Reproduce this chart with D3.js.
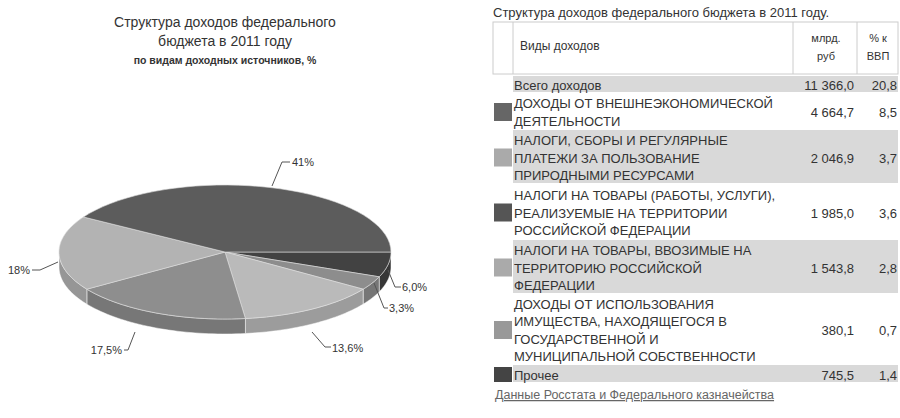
<!DOCTYPE html><html><head><meta charset="utf-8"><script src="https://d3js.org/d3.v7.min.js"></script>
<style>body{margin:0;background:#fff}text{font-family:"Liberation Sans",Arial,sans-serif}</style></head><body><svg id="c" width="900" height="418"></svg>
<script>
const sliceLabels=["6,0%","3,3%","13,6%","17,5%","18%","41%"];
const sliceValues=[6.0,3.3,13.6,17.5,18,41];
const sliceColors=["#424242","#8d8d8d","#bababa","#8e8e8e","#b3b3b3","#5c5c5c"];
const rowNames=[["Всего доходов"],["ДОХОДЫ ОТ ВНЕШНЕЭКОНОМИЧЕСКОЙ","ДЕЯТЕЛЬНОСТИ"],["НАЛОГИ, СБОРЫ И РЕГУЛЯРНЫЕ","ПЛАТЕЖИ ЗА ПОЛЬЗОВАНИЕ","ПРИРОДНЫМИ РЕСУРСАМИ"],["НАЛОГИ НА ТОВАРЫ (РАБОТЫ, УСЛУГИ),","РЕАЛИЗУЕМЫЕ НА ТЕРРИТОРИИ","РОССИЙСКОЙ ФЕДЕРАЦИИ"],["НАЛОГИ НА ТОВАРЫ, ВВОЗИМЫЕ НА","ТЕРРИТОРИЮ РОССИЙСКОЙ","ФЕДЕРАЦИИ"],["ДОХОДЫ ОТ ИСПОЛЬЗОВАНИЯ","ИМУЩЕСТВА, НАХОДЯЩЕГОСЯ В","ГОСУДАРСТВЕННОЙ И","МУНИЦИПАЛЬНОЙ СОБСТВЕННОСТИ"],["Прочее"]];
const rowValues=["11 366,0","4 664,7","2 046,9","1 985,0","1 543,8","380,1","745,5"];
const rowPct=["20,8","8,5","3,7","3,6","2,8","0,7","1,4"];
const rowSwatch=[null,"#666","#aaa","#555","#aaa","#999","#444"];
const svg=d3.select("#c");
const t=svg.append("g").attr("fill","#333").attr("text-anchor","middle");
t.append("text").attr("x",225).attr("y",27).attr("font-size",14).text("Структура доходов федерального");
t.append("text").attr("x",225).attr("y",46).attr("font-size",14).text("бюджета в 2011 году");
t.append("text").attr("x",225).attr("y",64).attr("font-size",10.5).attr("font-weight","bold").text("по видам доходных источников, %");
const cx=225,cy=252,rx=166,ry=67,dep=15;
const arcs=d3.pie().sort(null).startAngle(0).endAngle(2*Math.PI)(sliceValues);
const P=(a,dy=0)=>[cx+rx*Math.cos(a),cy+ry*Math.sin(a)+dy];
function topPath(a0,a1){const n=40;let s=`M${cx},${cy}`;for(let i=0;i<=n;i++){const p=P(a0+(a1-a0)*i/n);s+=`L${p[0]},${p[1]}`}return s+"Z";}
function sidePath(a0,a1){a0=Math.max(a0,0);a1=Math.min(a1,Math.PI);if(a1<=a0)return null;const n=40;let s="";for(let i=0;i<=n;i++){const p=P(a0+(a1-a0)*i/n);s+=(i?"L":"M")+p[0]+","+p[1]}for(let i=n;i>=0;i--){const p=P(a0+(a1-a0)*i/n,dep);s+=`L${p[0]},${p[1]}`}return s+"Z";}
const g=svg.append("g");
arcs.forEach((d,i)=>{const s=sidePath(d.startAngle,d.endAngle);if(s)g.append("path").attr("d",s).attr("fill",d3.color(sliceColors[i]).darker(0.5)).attr("stroke","#fff").attr("stroke-width",0.5);});
arcs.forEach((d,i)=>g.append("path").attr("d",topPath(d.startAngle,d.endAngle)).attr("fill",sliceColors[i]).attr("stroke","#ddd").attr("stroke-width",0.6));
// labels: slice index, leader points, text x, y, anchor
const lab=[
 [5,"M272,186L282,162L290,162",292,166,"start"],
 [0,"M388,270L395,287L401,287",402,291,"start"],
 [1,"M374,283L384,308L388,308",389,312,"start"],
 [2,"M312,332L325,347L331,347",332,352,"start"],
 [3,"M135,332L128,350L124,350",122,354,"end"],
 [4,"M58,262L40,270L32,270",30,274,"end"]];
lab.forEach(l=>{svg.append("path").attr("d",l[1]).attr("fill","none").attr("stroke","#555");
 svg.append("text").attr("x",l[2]).attr("y",l[3]).attr("text-anchor",l[4]).attr("font-size",11).attr("fill","#333").text(sliceLabels[l[0]]);});
const T=svg.append("g").attr("fill","#333");
T.append("text").attr("x",493).attr("y",17).attr("font-size",13).text("Структура доходов федерального бюджета в 2011 году.");
const x0=493,x1=513,x2=793,x3=857,x4=898;
const rowY=[76,94,130,185,240,295,365,384];
T.append("rect").attr("x",x0).attr("y",22).attr("width",x4-x0).attr("height",52).attr("fill","#fff").attr("stroke","#ccc");
[x1,x2,x3].forEach(x=>T.append("line").attr("x1",x).attr("x2",x).attr("y1",22).attr("y2",74).attr("stroke","#ccc"));
T.append("text").attr("x",520).attr("y",50).attr("font-size",12).text("Виды доходов");
T.append("text").attr("x",826).attr("y",42).attr("font-size",11).attr("text-anchor","middle").text("млрд.");
T.append("text").attr("x",826).attr("y",60).attr("font-size",11).attr("text-anchor","middle").text("руб");
T.append("text").attr("x",878).attr("y",42).attr("font-size",11).attr("text-anchor","middle").text("% к");
T.append("text").attr("x",878).attr("y",60).attr("font-size",11).attr("text-anchor","middle").text("ВВП");
rowNames.forEach((nm,i)=>{const y0=rowY[i],y1=rowY[i+1];
 if(i%2==0)T.append("rect").attr("x",x1).attr("y",y0).attr("width",x4-x1).attr("height",y1-y0-2).attr("fill","#d9d9d9");
 if(rowSwatch[i]){const h=Math.min(18,y1-y0-4);T.append("rect").attr("x",x0+1).attr("y",(y0+y1)/2-h/2).attr("width",18).attr("height",h).attr("fill",rowSwatch[i]);}
 const lh=17.5,ty=(y0+y1)/2-(nm.length-1)*lh/2+5;
 nm.forEach((s,k)=>T.append("text").attr("x",514).attr("y",ty+k*lh).attr("font-size",13).text(s));
 T.append("text").attr("x",854).attr("y",(y0+y1)/2+5).attr("font-size",13).attr("text-anchor","end").text(rowValues[i]);
 T.append("text").attr("x",897).attr("y",(y0+y1)/2+5).attr("font-size",13).attr("text-anchor","end").text(rowPct[i]);
});
T.append("text").attr("x",495).attr("y",399).attr("font-size",12.5).attr("fill","#666").attr("text-decoration","underline").text("Данные Росстата и Федерального казначейства");
</script></body></html>
